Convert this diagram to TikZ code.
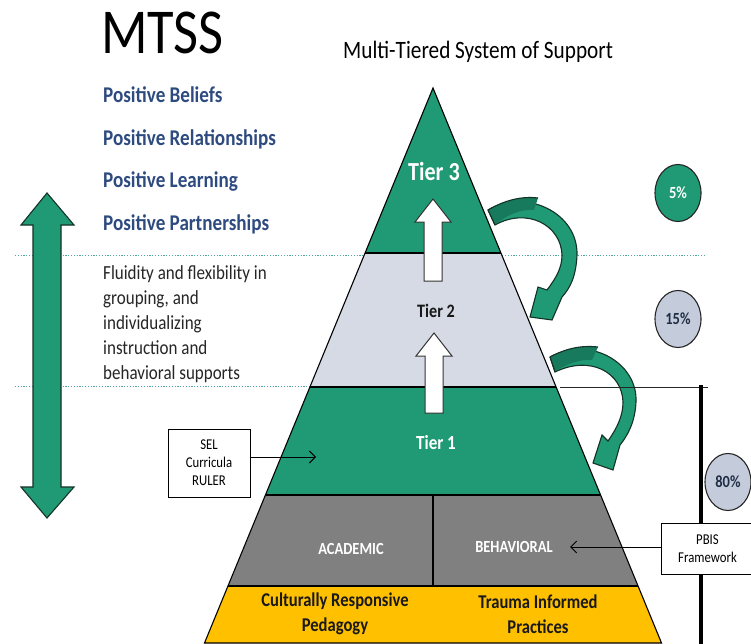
\documentclass[tikz,border=0pt]{standalone}
\usepackage{fontspec}
\setmainfont{Carlito}[FakeStretch=0.85]
\usetikzlibrary{shapes.geometric,arrows.meta}
\definecolor{tgreen}{RGB}{31,154,116}
\definecolor{tgreendk}{RGB}{24,122,92}
\definecolor{tgray}{RGB}{214,218,228}
\definecolor{cgray}{RGB}{196,204,220}
\definecolor{bandgray}{RGB}{128,128,128}
\definecolor{tyellow}{RGB}{255,192,0}
\definecolor{posblue}{RGB}{46,75,128}
\definecolor{dotteal}{RGB}{80,165,160}
\definecolor{navy}{RGB}{31,45,70}
\definecolor{dkgreen}{RGB}{20,50,38}
\begin{document}
\begin{tikzpicture}[x=1pt,y=-1pt,
  lay/.style={draw=black,line width=1.1pt},
  dotline/.style={dotteal,line width=1pt,dash pattern=on 1.2pt off 1.6pt},
  blk/.style={draw=dkgreen,line width=1.1pt,fill=tgreen},
  wht/.style={draw=black!80,line width=1pt,fill=white},
  pct/.style={ellipse,draw=black!85,line width=1.1pt,minimum width=46pt,minimum height=57pt,inner sep=0pt,font=\bfseries\fontsize{17}{20}\selectfont},
  lbox/.style={draw=black,line width=1pt,fill=white,inner sep=0pt,align=center,font=\fontsize{15}{18}\selectfont},
  plain/.style={inner sep=0pt},
  conn/.style={line width=1pt,-{Straight Barb[length=6pt,width=12pt]}}
]
\useasboundingbox (0,0) rectangle (751,644);
\fill[white] (0,0) rectangle (751,644);

% dotted guide lines
\draw[dotline] (15,255) -- (705,255);
\draw[dotline] (15,386) -- (312,386);

% pyramid layers
\fill[tgreen] (433,88) -- (500.8,253) -- (365.2,253) -- cycle;
\fill[tgray] (365.2,253) -- (500.8,253) -- (555.9,387) -- (310.1,387) -- cycle;
\fill[tgreen] (310.1,387) -- (555.9,387) -- (600.3,495) -- (265.7,495) -- cycle;
\fill[bandgray] (265.7,495) -- (600.3,495) -- (637.7,586) -- (228.3,586) -- cycle;
\fill[tyellow] (228.3,586) -- (637.7,586) -- (661.5,643) -- (204.5,643) -- cycle;
\draw[lay] (433,88) -- (661.5,643) -- (204.5,643) -- cycle;
\draw[lay] (365.2,253) -- (500.8,253);
\draw[lay] (310.1,387) -- (555.9,387);
\draw[lay] (265.7,495) -- (600.3,495);
\draw[lay] (228.3,586) -- (637.7,586);
\draw[lay] (433,495) -- (433,586);

% white up arrows
\draw[wht] (433,199) -- (451,222) -- (442,222) -- (442,281) -- (424,281) -- (424,222) -- (415,222) -- cycle;
\draw[wht] (434,333) -- (452,356) -- (443,356) -- (443,413) -- (425,413) -- (425,356) -- (416,356) -- cycle;

% curved green arrows
\draw[blk] (488,210) .. controls (525,188) and (578,212) .. (577,255) .. controls (576,277) and (570,288) .. (562,297) -- (552,320) -- (530,317) -- (538,287) -- (547,290) .. controls (556,278) and (562,268) .. (562,255) .. controls (561,225) and (527,207) .. (495,225) -- cycle;
\fill[tgreendk] (488.6,210) .. controls (505,200) and (522,196) .. (538,198) -- (534,210) .. controls (520,209) and (508,215) .. (495.5,224) -- cycle;
\draw[dkgreen,line width=1.1pt] (488,210) .. controls (505,200) and (522,196) .. (538,198);
\draw[dkgreen,line width=1.1pt] (488,210) -- (495,225);
\draw[blk] (550,357) .. controls (590,335) and (638,363) .. (636,402) .. controls (635,422) and (628,435) .. (620,445) -- (613,470) -- (593,463) -- (602,435) -- (608,441) .. controls (617,428) and (623,416) .. (623,402) .. controls (622,372) and (590,355) .. (555,372) -- cycle;
\fill[tgreendk] (550.6,357) .. controls (565,349) and (580,345) .. (598,347) -- (592,360) .. controls (580,359) and (567,364) .. (555.5,371) -- cycle;
\draw[dkgreen,line width=1.1pt] (550,357) .. controls (565,349) and (580,345) .. (598,347);
\draw[dkgreen,line width=1.1pt] (550,357) -- (555,372);

% right-side lines
\draw[black!85,line width=0.8pt] (560,387) -- (708,387);
\draw[black,line width=3.5pt] (701,385) -- (701,644);

% left double arrow
\draw[blk] (47,193) -- (74,225) -- (61,225) -- (61,487) -- (74,487) -- (47,518) -- (21,487) -- (33,487) -- (33,225) -- (21,225) -- cycle;

% titles
\node[plain,anchor=base west,font=\fontsize{64}{70}\selectfont] (mtss) at (101,54) {MTSS};
\node[plain,anchor=base west,font=\fontsize{25}{30}\selectfont] (sub) at (343,59) {Multi-Tiered System of Support};

% positive list
\begin{scope}[every node/.style={plain,anchor=base west,text=posblue,font=\bfseries\fontsize{22.5}{26}\selectfont}]
\node (p1) at (103,103) {Positive Beliefs};
\node (p2) at (103,146) {Positive Relationships};
\node (p3) at (103,188) {Positive Learning};
\node (p4) at (103,230) {Positive Partnerships};
\end{scope}

\node[plain,anchor=north west,align=left,text=black!85,font=\fontsize{20}{25}\selectfont] (flu) at (103,265) {Fluidity and flexibility in\\grouping, and\\individualizing\\instruction and\\behavioral supports};

% tier labels
\node[plain,text=white,font=\bfseries\fontsize{26}{30}\selectfont] (t3) at (434,171) {Tier 3};
\node[plain,text=black!90,font=\bfseries\fontsize{19}{22}\selectfont] (t2) at (436,311) {Tier 2};
\node[plain,text=white,font=\bfseries\fontsize{20}{24}\selectfont] (t1) at (436,443) {Tier 1};
\node[plain,text=white,font=\bfseries\fontsize{17}{20}\selectfont] (acad) at (351,549) {ACADEMIC};
\node[plain,text=white,font=\bfseries\fontsize{17}{20}\selectfont] (behav) at (514,547) {BEHAVIORAL};
\node[plain,align=center,text=black!90,font=\bfseries\fontsize{19.5}{24.5}\selectfont] (crp) at (335,614) {Culturally Responsive\\Pedagogy};
\node[plain,align=center,text=black!90,font=\bfseries\fontsize{19.5}{24.5}\selectfont] (tip) at (538,614) {Trauma Informed\\Practices};

% percentage circles
\node[pct,fill=tgreen,text=white] (c5) at (678,193) {5\%};
\node[pct,fill=cgray,text=navy] (c15) at (678,319) {15\%};
\node[pct,fill=cgray,text=navy] (c80) at (728,482) {80\%};

% side boxes
\node[lbox,minimum width=82pt,minimum height=68pt] (sel) at (209,463) {SEL\\Curricula\\RULER};
\node[lbox,minimum width=92pt,minimum height=51pt,anchor=west] (pbis) at (661,548.5) {PBIS\\Framework};
\coordinate (selend) at (316,457);
\coordinate (pbisend) at (570,547);
\draw[conn] (sel.east |- selend) -- (selend);
\draw[conn] (pbis.west |- pbisend) -- (pbisend);
\end{tikzpicture}
\end{document}
